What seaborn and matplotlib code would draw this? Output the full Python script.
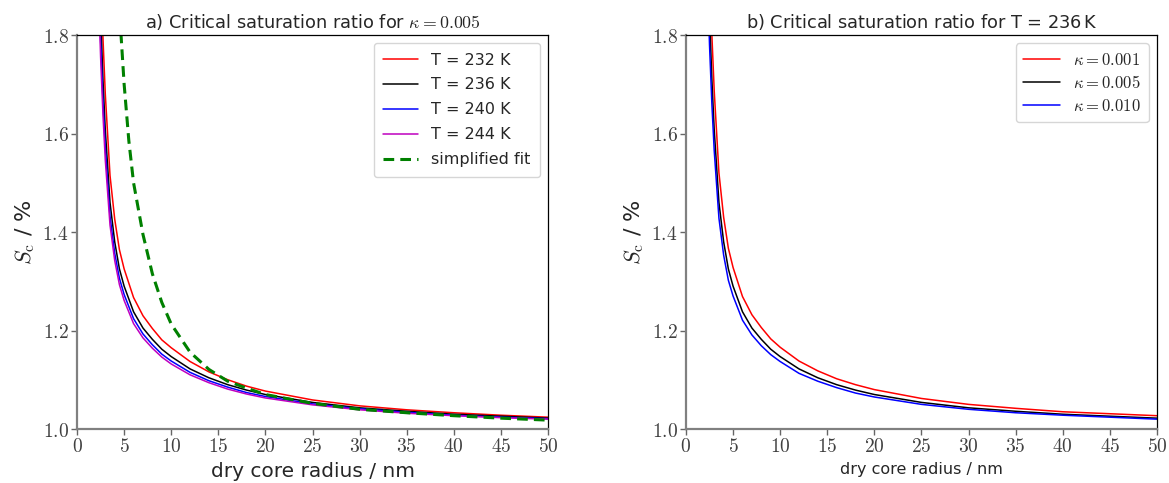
import numpy as np
import matplotlib
matplotlib.use("Agg")
import matplotlib.pyplot as plt
import seaborn as sns

# dry core radius grid (nm)
radius = [2.3, 2.5, 2.75, 3.0, 3.5, 4.0, 4.5, 5.0, 6.0, 7.0, 8.0, 9.0, 10, 12, 14, 16, 18, 20, 25, 30, 35, 40, 45, 50]

# panel a: kappa = 0.005, different temperatures
sc_232 = [2.10, 1.94, 1.795, 1.68, 1.515, 1.426, 1.364, 1.325, 1.267, 1.230, 1.204, 1.181, 1.165, 1.137, 1.116, 1.100, 1.087, 1.077, 1.059, 1.047, 1.039, 1.033, 1.028, 1.024]
sc_236 = [1.98, 1.84, 1.71, 1.607, 1.46, 1.38, 1.325, 1.29, 1.238, 1.205, 1.182, 1.162, 1.147, 1.122, 1.104, 1.090, 1.079, 1.070, 1.054, 1.043, 1.036, 1.030, 1.026, 1.022]
sc_240 = [1.92, 1.79, 1.667, 1.571, 1.432, 1.357, 1.306, 1.273, 1.224, 1.193, 1.171, 1.152, 1.138, 1.115, 1.098, 1.085, 1.074, 1.066, 1.051, 1.041, 1.034, 1.028, 1.024, 1.021]
sc_244 = [1.88, 1.756, 1.639, 1.546, 1.414, 1.342, 1.293, 1.261, 1.214, 1.185, 1.164, 1.146, 1.132, 1.110, 1.094, 1.081, 1.071, 1.063, 1.049, 1.039, 1.032, 1.027, 1.023, 1.020]

fit_radius = [4.3, 4.67, 5.0, 5.5, 6.0, 7.0, 8.0, 9.0, 10, 12, 14, 16, 18, 20, 25, 30, 35, 40, 45, 50]
sc_fit = [1.97, 1.80, 1.70, 1.585, 1.50, 1.395, 1.315, 1.257, 1.213, 1.156, 1.121, 1.097, 1.083, 1.070, 1.052, 1.040, 1.033, 1.027, 1.022, 1.018]

temp_labels = ["T = 232 K", "T = 236 K", "T = 240 K", "T = 244 K"]
temp_colors = ["red", "black", "blue", "m"]

# panel b: T = 236 K, different kappa
sc_k001 = [2.11, 1.95, 1.80, 1.686, 1.52, 1.43, 1.367, 1.328, 1.269, 1.232, 1.206, 1.183, 1.166, 1.138, 1.118, 1.102, 1.090, 1.080, 1.062, 1.050, 1.042, 1.035, 1.031, 1.027]
sc_k005 = sc_236
sc_k010 = [1.91, 1.78, 1.66, 1.565, 1.428, 1.353, 1.302, 1.270, 1.221, 1.191, 1.169, 1.151, 1.137, 1.113, 1.097, 1.084, 1.073, 1.065, 1.050, 1.040, 1.033, 1.028, 1.024, 1.020]

kappa_labels = [r"$\kappa = 0.001$", r"$\kappa = 0.005$", r"$\kappa = 0.010$"]
kappa_colors = ["red", "black", "blue"]

sns.set_style("white")
plt.rcParams["font.family"] = ["DejaVu Sans"]
plt.rcParams["mathtext.fontset"] = "cm"

fig = plt.figure(figsize=(11.69, 4.83), dpi=100)
ax1 = fig.add_axes([0.0659, 0.1118, 0.4029, 0.8157])
ax2 = fig.add_axes([0.5868, 0.1118, 0.4029, 0.8157])

for sc, lab, col in zip([sc_232, sc_236, sc_240, sc_244], temp_labels, temp_colors):
  sns.lineplot(x=radius, y=sc, ax=ax1, color=col, label=lab, linewidth=1.1)
sns.lineplot(x=fit_radius, y=sc_fit, ax=ax1, color="green", label="simplified fit",
             linewidth=2.2, linestyle=(0, (3.5, 2)))

for sc, lab, col in zip([sc_k001, sc_k005, sc_k010], kappa_labels, kappa_colors):
  sns.lineplot(x=radius, y=sc, ax=ax2, color=col, label=lab, linewidth=1.1)


def style_axes(ax):
  ax.set_xlim(0, 50)
  ax.set_ylim(1.0, 1.8)
  ax.set_xticks(np.arange(0, 51, 5))
  ax.set_yticks([1.0, 1.2, 1.4, 1.6, 1.8])
  ax.set_xticklabels([f"${v}$" for v in range(0, 51, 5)])
  ax.set_yticklabels([f"${v:.1f}$" for v in [1.0, 1.2, 1.4, 1.6, 1.8]])
  ax.tick_params(axis="both", which="major", labelsize=14, length=4, width=1,
                 color="0.4", labelcolor="0.25", direction="out", bottom=True, left=True, pad=2)
  for side in ["left", "bottom"]:
    ax.spines[side].set_color("0.5")
    ax.spines[side].set_linewidth(1.6)
  for side in ["top", "right"]:
    ax.spines[side].set_color("black")
    ax.spines[side].set_linewidth(0.9)
  ax.set_ylabel(r"$S_\mathrm{c}$ / %", fontsize=16, labelpad=4)


style_axes(ax1)
style_axes(ax2)

ax1.set_title(r"a) Critical saturation ratio for $\kappa = 0.005$", fontsize=12.8, pad=5)
ax2.set_title(r"b) Critical saturation ratio for T = 236$\,$K", fontsize=12.8, pad=5)
ax1.set_xlabel("dry core radius / nm", fontsize=14.5)
ax2.set_xlabel("dry core radius / nm", fontsize=11.5)

ax1.legend(loc="upper right", fontsize=11.5, frameon=True, fancybox=True,
           borderpad=0.6, labelspacing=0.62, handlelength=2.2)
ax2.legend(loc="upper right", fontsize=12, frameon=True, fancybox=True,
           borderpad=0.45, labelspacing=0.3, handlelength=2.2)

fig.savefig("out.png", dpi=100)
plt.close(fig)
